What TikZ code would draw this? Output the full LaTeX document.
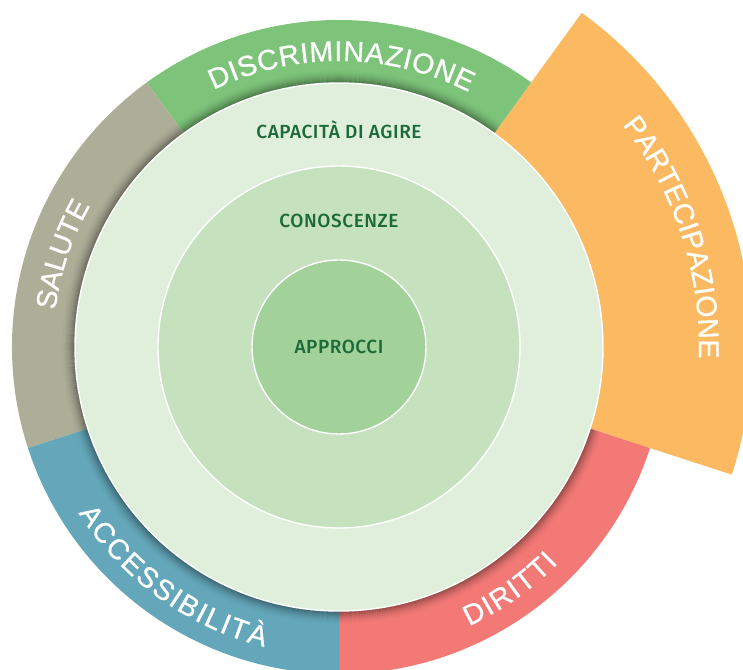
\documentclass[tikz,border=0pt]{standalone}
\usepackage{fontspec}
\usetikzlibrary{decorations.text}
\newfontfamily\ringfont{Liberation Sans}[FakeBold=0.8]
\newfontfamily\labelfont{Fira Sans Medium}[LetterSpace=3]
\definecolor{ringgreen}{HTML}{7DC47A}
\definecolor{ringgray}{HTML}{ADAE98}
\definecolor{ringorange}{HTML}{FBB962}
\definecolor{ringblue}{HTML}{64A7BA}
\definecolor{ringred}{HTML}{F27976}
\definecolor{discA}{HTML}{E0EFDC}
\definecolor{discB}{HTML}{C5E1BE}
\definecolor{discC}{HTML}{A2D199}
\definecolor{labelgreen}{HTML}{1C6A38}
\tikzset{
  disc/.style={draw=white, line width=1.4pt},
  innerlabel/.style={font=\labelfont\fontsize{19}{19}\selectfont, text=labelgreen, anchor=base, inner sep=0pt},
  ringtext/.style={decorate, decoration={text along path, text color=white,
      text={|\ringfont\fontsize{28.5}{28.5}\selectfont|#1}, text align=fit to path}}
}
\begin{document}
\begin{tikzpicture}[x=1pt,y=1pt]
\useasboundingbox (-339,-322) rectangle (404,347);
\clip (-339,-322) rectangle (404,347);
% outer segments
\fill[ringorange] (0,0) -- (-18:413) arc[start angle=-18, end angle=54, radius=413] -- cycle;
\fill[ringgreen] (0,0) -- (54:327) arc[start angle=54, end angle=126, radius=327] -- cycle;
\fill[ringgray] (0,0) -- (126:327) arc[start angle=126, end angle=198, radius=327] -- cycle;
\fill[ringblue] (0,0) -- (198:327) arc[start angle=198, end angle=270, radius=327] -- cycle;
\fill[ringred] (0,0) -- (270:327) arc[start angle=270, end angle=342, radius=327] -- cycle;
% inner shadow on the ring
\begin{scope}
  \clip (0,0) -- (54:330) arc[start angle=54, end angle=342, radius=330] -- cycle;
  \foreach \i [evaluate=\i as \op using {0.36*(1-\i/14)^2}] in {0,...,13}
    \draw[black, opacity=\op, line width=1.05pt] (0,0) circle[radius=264.5+\i];
\end{scope}
% discs
\draw[disc, fill=discA] (0,0) circle[radius=264];
\draw[disc, fill=discB] (0,0) circle[radius=181];
\draw[disc, fill=discC] (0,0) circle[radius=87];
% inner labels
\node[innerlabel] (capacita) at (0,208) {CAPACITÀ DI AGIRE};
\node[innerlabel] (conoscenze) at (0,119) {CONOSCENZE};
\node[innerlabel] (approcci) at (0,-6) {APPROCCI};
% ring labels
\path[ringtext=DISCRIMINAZIONE] (116:286) arc[start angle=116, end angle=63, radius=286];
\path[ringtext=SALUTE] (172.6:286) arc[start angle=172.6, end angle=150.8, radius=286];
\path[ringtext=PARTECIPAZIONE] (38.1:360) arc[start angle=38.1, end angle=-1.8, radius=360];
\path[ringtext=ACCESSIBILITÀ] (212.5:309) arc[start angle=212.5, end angle=256, radius=309];
\path[ringtext=DIRITTI] (-65:308) arc[start angle=-65, end angle=-44.6, radius=308];
\end{tikzpicture}
\end{document}
